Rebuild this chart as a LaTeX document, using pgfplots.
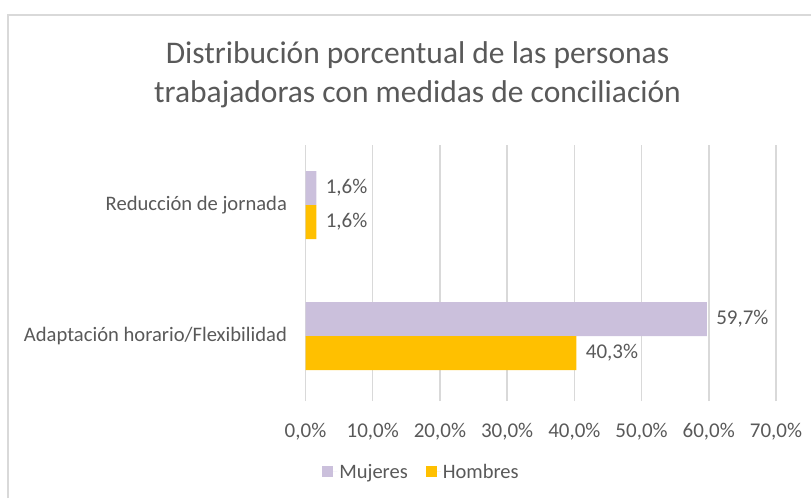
\documentclass[border=0pt]{standalone}
\usepackage{pgfplots}
\pgfplotsset{compat=1.18}
\usepackage{fontspec}
\setmainfont{Carlito}
\definecolor{muj}{HTML}{CBC0DC}
\definecolor{hom}{HTML}{FFC000}
\definecolor{txt}{HTML}{595959}
\definecolor{grd}{HTML}{D9D9D9}
\begin{document}
\begin{tikzpicture}[x=1pt,y=1pt]
\useasboundingbox (0,0) rectangle (811,498);
\draw[grd,line width=1.5pt] (8,0) -- (8,483) -- (811,483);
\node[txt,align=center,font=\fontsize{31.5}{39}\selectfont] at (417.5,423) {Distribución porcentual de las personas\\trabajadoras con medidas de conciliación};
\begin{axis}[
  at={(305.5pt,97pt)}, anchor=south west,
  width=470.5pt, height=256pt, scale only axis,
  xmin=0, xmax=70, ymin=-0.496, ymax=1.458,
  xtick={0,10,...,70},
  xticklabels={{0,0\%},{10,0\%},{20,0\%},{30,0\%},{40,0\%},{50,0\%},{60,0\%},{70,0\%}},
  ytick={0,1},
  yticklabels={Adaptación horario/Flexibilidad,Reducción de jornada},
  /pgf/number format/assume math mode=true,
  ticklabel style={font=\fontsize{21}{25}\selectfont, text=txt},
  yticklabel style={font=\fontsize{20.6}{25}\selectfont, xshift=-15pt},
  xticklabel style={yshift=-19pt},
  axis line style={draw=none},
  major tick length=0pt,
  xmajorgrids, ymajorgrids=false,
  grid style={grd,line width=1.5pt},
  xbar, bar width=34pt,
  nodes near coords={\pgfmathprintnumber[fixed,fixed zerofill,precision=1,use comma]{\pgfplotspointmeta}\%},
  every node near coord/.append style={font=\fontsize{21}{25}\selectfont, text=txt, anchor=west, xshift=6pt},
  point meta=explicit,
  legend style={at={(0.2465,-0.277)}, anchor=center, draw=none, fill=none,
    legend columns=2, font=\fontsize{20.5}{24}\selectfont, text=txt,
    /tikz/every even column/.append style={column sep=16pt}},
  legend cell align=left,
  legend image code/.code={\fill[#1] (0pt,-5.5pt) rectangle (11pt,5.5pt); \path (0pt,0pt) -- (15pt,0pt);},
]
\addplot[fill=muj, draw=none, bar shift=17pt] coordinates {(59.7,0) [59.7] (1.6,1) [1.6]};
\addplot[fill=hom, draw=none, bar shift=-17pt] coordinates {(40.3,0) [40.3] (1.6,1) [1.6]};
\legend{Mujeres,Hombres}
\end{axis}
\end{tikzpicture}
\end{document}
